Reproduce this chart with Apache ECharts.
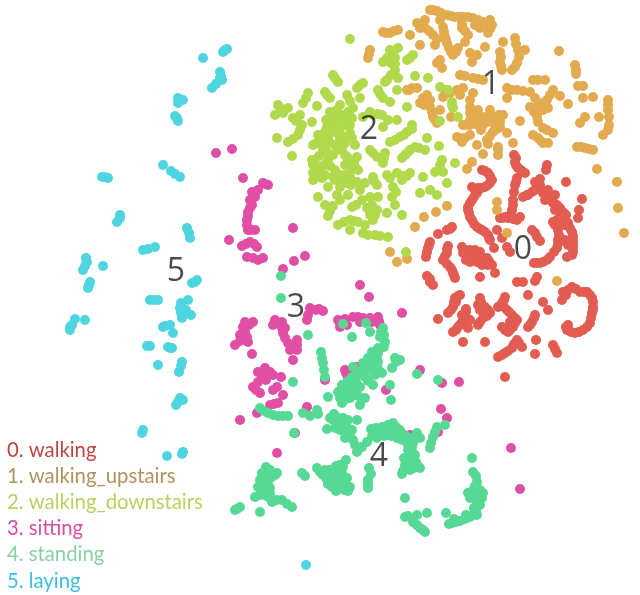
<!DOCTYPE html>
<html><head><meta charset="utf-8">
<style>html,body{margin:0;padding:0;background:#fff}#c{width:640px;height:595px}</style>
<script src="https://cdn.jsdelivr.net/npm/echarts@6/dist/echarts.min.js"></script>
</head><body><div id="c"></div>
<script>
const walking=[[514,155],[515,162],[518,168],[525,173],[517,178],[515,185],[513,200],[512,210],[510,218],[500,218],[517,220],[508,218],[505,217],[520,217],
[482,170],[488,173],[492,180],[488,185],[482,188],[472,187],[477,193],[472,200],[468,207],[469,213],[472,220],[477,227],[482,230],[488,235],[490,240],[497,230],
[523,197],[532,192],[538,188],[543,193],[550,200],[557,205],[563,212],[557,220],[553,222],[558,230],[558,240],[557,248],[550,257],[543,262],[537,263],[535,182],[540,179],[547,165],[546,170],[566,182],[582,199],[579,210],[578,218],[568,223],[572,232],[573,240],[573,248],[572,255],[567,257],[528,195],[545,195],[553,203],
[532,230],[537,237],[540,241],[502,238],[507,247],[494,248],[510,252],
[452,227],[447,230],[438,234],[430,242],[428,248],[426,257],[448,246],[447,253],[443,260],[450,267],[453,273],[455,278],[427,276],[433,285],[430,282],
[462,247],[463,253],[468,257],[475,250],[475,260],[482,265],[487,258],[488,265],[480,277],[495,273],[470,262],[517,282],[523,282],[537,277],[535,281],
[460,295],[455,298],[453,307],[448,313],[438,319],[466,309],[462,322],[458,327],[453,332],[470,320],[468,328],[463,342],[485,342],[480,298],[478,305],[485,307],[490,313],[483,318],[478,325],[505,297],[502,303],[507,310],[512,315],[517,320],[513,327],[508,332],[502,327],[528,295],[543,302],[548,310],[535,315],[532,322],[528,327],[517,340],[512,348],[505,353],[498,357],[522,347],[536,340],[535,354],[553,345],[557,353],[505,377],
[562,300],[563,292],[572,287],[580,292],[587,292],[592,298],[593,307],[592,313],[590,323],[583,330],[575,333],[567,330],[568,325],
[516,158],[516,165],[521,170],[516,182],[514,192],[513,205],[511,214],[503,218],[513,219],[485,171],[490,176],[490,183],[485,187],[478,188],[475,190],[474,197],[470,203],[468,210],[470,217],[474,224],[480,229],[485,232],[489,238],[527,195],[535,190],[541,190],[547,197],[553,202],[560,208],[561,215],[555,225],[559,235],[558,244],[554,252],[547,260],[540,263],[534,263],[570,228],[573,236],[573,244],[573,252],[566,215],[560,225],[563,218],[535,233],[450,229],[429,245],[427,252],[447,249],[445,256],[447,264],[452,270],[454,275],[430,279],[464,250],[466,255],[472,255],[478,257],[477,262],[484,262],[489,261],[486,264],[466,260],[473,258],
[458,296],[454,302],[451,310],[481,302],[482,306],[488,310],[487,316],[480,322],[464,318],[466,312],[460,325],[456,330],[504,300],[504,307],[509,312],[515,318],[515,323],[510,330],[505,330],[534,318],[530,325],[514,344],[508,351],[502,355],[519,343],[555,349],[566,295],[576,289],[584,292],[590,295],[593,302],[593,310],[591,318],[587,327],[579,332],[571,332],[566,327],[568,290],
[465,250],[470,250],[480,252],[482,258],[492,265],[456,302],[462,315],[480,310],[498,307],[510,322],[540,185],[548,190],[555,210],[564,225],[565,240],[568,245],[545,200],[555,195]];
const upstairs=[[430,10],[437,11],[447,15],[455,17],[463,17],[473,18],[483,22],[492,25],[488,33],[417,23],[425,28],[433,35],[443,27],[445,37],[447,43],[453,55],[462,28],[468,35],[458,48],[485,47],[383,32],[390,33],[398,30],[410,35],[420,45],[370,50],[368,58],[437,63],[442,68],[477,55],[470,53],[472,62],[500,52],[500,62],[502,70],[503,42],[515,38],[518,50],[525,50],[517,63],[512,70],[559,51],[575,65],[576,74],[578,86],[583,86],[583,98],[593,97],[568,104],[608,100],[608,110],[609,125],[603,135],[599,117],[585,117],[580,123],[577,147],[585,148],[593,150],[597,169],[617,182],[618,208],[624,233],
[460,75],[473,78],[483,80],[407,90],[417,88],[427,95],[420,103],[430,107],[433,117],[437,123],[443,97],[457,90],[460,95],[473,93],[470,107],[470,113],[480,117],[490,117],[503,115],[483,125],[463,125],[470,125],[507,88],[517,90],[530,92],[533,80],[545,80],[507,98],[553,90],[543,103],[537,107],[530,107],[537,117],[560,96],[520,121],[543,128],[553,133],[533,135],[543,143],[457,137],[470,135],[462,142],[477,145],[487,140],[493,132],[500,127],[483,154],[498,147],[498,155],[507,133],[513,143],[472,162],[467,169],[451,117],[447,206],[436,212],[424,217],[415,227],[497,202],[497,210],[507,233],[390,252],[397,262],[407,259],[557,281],
[433,10],[441,13],[451,16],[459,17],[468,17],[478,20],[487,24],[490,29],[421,25],[429,31],[437,39],[444,32],[446,40],[449,48],[451,52],[456,52],[465,31],[462,24],[440,60],[386,33],[394,31],[369,54],[501,57],[501,66],[516,44],[519,57],[521,51],[515,67],[576,70],[608,105],[609,117],[608,130],[581,147],[589,149],[409,90],[412,88],[423,98],[424,105],[432,112],[435,120],[465,76],[478,79],[450,93],[463,88],[470,100],[472,110],[475,115],[485,117],[496,117],[499,115],[487,122],[481,130],[466,125],[512,90],[523,91],[538,80],[550,95],[547,100],[540,110],[534,112],[538,122],[547,130],[538,138],[541,141],[548,143],[460,138],[465,138],[488,144],[490,136],[497,129],[498,150],[483,120],[478,125],
[425,20],[420,28],[435,45],[440,20],[475,25],[490,20],[480,28],[465,42],[478,110],[475,122],[490,110],[500,122],[495,125],[470,120],[430,100],[440,110],[445,90],[535,98],[543,110],[548,108]];
const downstairs=[[350,39],[398,48],[387,58],[395,58],[395,70],[387,80],[398,78],[413,55],[407,60],[415,76],[428,78],[397,90],[440,87],[448,90],[452,102],[453,108],[458,117],[440,121],[407,107],[333,75],[338,82],[363,83],[357,88],[378,90],[383,98],[390,102],[308,93],[303,103],[325,92],[330,98],[347,95],[360,98],[353,108],[278,105],[283,113],[275,115],[293,118],[302,125],[298,135],[288,142],[277,138],[317,106],[312,122],[292,156],
[337,110],[345,120],[332,117],[327,127],[320,140],[313,145],[323,150],[337,133],[350,133],[345,143],[337,150],[328,160],[312,160],[313,173],[320,170],[335,170],[347,157],[357,157],[352,170],[343,183],[357,182],[365,183],[335,112],[350,125],[328,137],[313,180],[328,187],[340,187],
[370,112],[382,115],[363,117],[397,120],[383,127],[370,150],[377,157],[385,153],[383,163],[412,125],[407,132],[400,137],[390,142],[427,138],[439,146],[415,147],[407,153],[425,150],[402,158],[442,160],[455,163],[443,172],[435,172],[447,183],[423,177],[430,190],[437,195],[420,193],[387,175],[397,173],[410,173],[402,180],[393,187],[392,197],[395,205],[373,177],[377,185],[370,197],[378,197],[318,197],[333,206],[328,216],[338,225],[350,220],[358,222],[352,207],[362,200],[367,208],[377,210],[373,220],[363,233],[375,235],[388,237],[387,213],[402,215],[350,230],[406,252],[337,195],
[335,78],[360,85],[380,94],[306,98],[327,95],[350,101],[280,108],[296,121],[300,130],[293,139],[393,52],[391,63],[395,64],[391,75],[410,58],[385,82],[452,105],[334,114],[340,115],[343,115],[330,122],[335,125],[341,127],[345,125],[325,132],[322,137],[317,143],[330,143],[335,145],[340,140],[348,138],[352,138],[342,150],[327,152],[319,156],[316,165],[324,165],[330,166],[317,177],[322,178],[333,177],[340,175],[345,165],[350,162],[354,163],[350,177],[347,183],[351,185],[361,185],[373,115],[378,114],[388,120],[412,129],[404,135],[395,140],[373,153],[382,158],[384,158],[410,150],[419,148],[405,155],[440,165],[390,178],[403,176],[407,176],[396,192],[374,181],[372,205],[330,211],[344,222],[354,221],[356,205],[370,215],[375,215],[365,225],[368,235],[380,236],
[340,105],[330,112],[348,112],[352,118],[340,120],[326,120],[318,135],[330,132],[342,136],[355,145],[345,155],[333,155],[322,145],[325,175],[313,165],[335,180],[345,175],[358,170],[360,190],[348,195],[340,200],[325,205],[390,50],[383,62],[300,115],[288,108]];
const sitting=[[216,153],[232,149],[243,178],[263,183],[268,185],[252,192],[255,197],[252,205],[248,212],[247,220],[248,230],[255,230],[229,240],[242,246],[250,242],[257,247],[247,257],[258,260],[263,258],[293,228],[305,256],[294,261],[283,269],
[360,285],[369,297],[402,313],[310,308],[323,311],[307,320],[338,320],[353,317],[363,318],[378,317],[380,325],[340,327],[253,322],[243,327],[247,337],[235,345],[252,354],[273,325],[282,322],[283,333],[288,343],[297,340],[297,350],[293,360],[265,368],[262,378],[273,375],[281,377],[253,387],[260,393],[277,387],[278,403],[270,405],[257,413],[240,420],[307,407],[295,433],[277,453],[345,370],[348,377],[357,367],[325,380],[386,390],[420,370],[442,383],[459,382],[441,409],[447,418],[438,432],[511,448],[520,489],[410,435],
[265,184],[253,195],[250,208],[248,216],[247,225],[251,230],[246,244],[254,244],[253,258],[308,315],[316,310],[319,309],[345,319],[358,317],[370,318],[379,321],[340,323],[249,325],[245,332],[240,341],[275,320],[282,328],[285,338],[293,345],[297,345],[263,373],[268,372],[258,382],[256,390],[273,390],[274,404],[346,373],[352,372],
[250,200],[258,190],[270,372],[266,380],[245,322],[240,335],[248,342],[290,350],[285,328],[360,322],[372,322],[347,325],[258,372],[283,395]];
const standing=[[281,276],[281,298],[308,335],[343,324],[352,337],[366,323],[370,332],[380,337],[383,328],[385,342],[378,348],[377,358],[395,358],[400,360],[392,368],[363,363],[373,365],[382,373],[353,367],[352,377],[365,377],[360,387],[373,385],[347,387],[338,392],[352,390],[342,403],[350,398],[365,398],[360,405],[328,397],[391,400],[390,385],[321,352],[323,363],[325,377],[293,382],[417,374],[438,380],
[260,408],[268,413],[278,416],[288,416],[303,413],[310,416],[317,410],[318,414],[294,433],[330,418],[343,418],[338,425],[357,420],[327,429],[348,433],[353,440],[357,452],[367,442],[371,429],[382,427],[393,423],[400,430],[387,433],[377,438],[397,438],[407,440],[417,433],[413,443],[412,452],[410,460],[407,468],[420,468],[402,474],[430,448],[433,437],[437,427],[445,425],[369,468],[368,480],[368,488],[346,460],
[317,468],[323,475],[335,470],[342,473],[333,480],[340,487],[348,491],[332,487],[343,467],[302,473],[305,476],[266,467],[277,473],[260,480],[268,483],[272,477],[255,497],[265,495],[272,502],[282,500],[292,507],[240,507],[260,512],[235,510],[405,498],[405,517],[417,515],[427,513],[413,522],[420,528],[425,532],[446,513],[452,523],[465,519],[473,515],[477,503],[482,498],[473,490],[477,482],[468,493],[473,472],[472,458],
[381,332],[384,335],[378,353],[375,362],[396,362],[368,364],[378,369],[375,375],[356,382],[368,381],[355,387],[343,390],[345,393],[355,394],[346,399],[322,358],[324,370],[264,411],[273,415],[283,416],[333,420],[338,418],[348,420],[340,430],[335,428],[345,438],[350,436],[355,445],[362,447],[372,436],[376,428],[388,425],[396,427],[391,436],[384,436],[401,436],[405,435],[412,438],[408,445],[412,447],[409,456],[411,464],[405,465],[414,468],[402,440],[415,438],[431,443],[435,432],[371,474],[368,484],[320,472],[328,472],[337,476],[338,471],[335,484],[345,484],[337,480],[344,490],[326,478],[330,475],[340,465],[344,478],[263,483],[270,488],[275,475],[262,473],[270,470],[260,495],[268,497],[277,500],[287,504],[237,509],[408,516],[417,525],[423,530],[456,522],[460,521],[470,517],[476,510],[478,496],[480,490],[475,486],[476,476],[470,498],[474,508],[449,524],
[330,470],[325,470],[336,466],[347,478],[350,487],[340,478],[328,484],[336,491],[262,477],[266,475],[258,487],[270,494],[265,488],[408,450],[415,455],[416,462],[404,458],[418,466],[403,471],[410,470],[358,375],[370,370],[362,370],[368,358],[372,352],[358,396],[348,381],[342,385],[378,362],[384,347],[340,398],[335,420],[343,426],[334,414],[347,427],[352,430],[385,430],[392,430],[398,433],[380,432],[420,438],[472,497],[480,505],[477,515],[483,493],[454,519],[466,515]];
const laying=[[203,58],[223,52],[227,49],[220,72],[222,80],[212,88],[178,98],[183,100],[178,103],[175,116],[178,121],[163,165],[171,171],[180,177],[102,177],[108,178],[120,215],[117,222],[187,228],[190,238],[143,250],[155,247],[87,262],[83,270],[103,266],[90,282],[88,288],[197,280],[192,283],[150,300],[158,300],[188,300],[180,308],[182,318],[191,315],[85,320],[75,319],[70,327],[70,330],[163,327],[170,325],[173,333],[147,346],[168,347],[172,348],[158,365],[182,362],[179,372],[180,398],[176,405],[142,433],[167,456],[183,452],[306,565],
[225,50],[221,76],[216,84],[220,78],[180,100],[177,118],[189,233],[148,249],[85,266],[89,285],[86,258],[195,282],[154,300],[181,303],[186,310],[181,313],[165,326],[150,346],[170,348],[181,366],[178,402],[183,400],[182,454],[72,325],[120,218],[105,177],[175,174],[143,430]];
const clusterLabels=[["0",523,250],["1",491,85],["2",369,130],["3",296,308],["4",379,457],["5",176,272]];
const classNames=["walking","walking_upstairs","walking_downstairs","sitting","standing","laying"];
const classData=[walking,upstairs,downstairs,sitting,standing,laying];
const pointColors=["#e25c52","#e3ab4f","#b0d94c","#e04fa5","#55d995","#4fd5e0"];
const legendColors=["#bd4440","#b1925c","#b7d35e","#d94ea0","#8bd0a5","#3dbfe3"];
const legendY=[450,476,502,528,554,581];

const series=classData.map((d,i)=>({name:classNames[i],type:'scatter',data:d,symbolSize:10,itemStyle:{color:pointColors[i],opacity:1},silent:true,animation:false}));
series.push({type:'scatter',data:clusterLabels.map(r=>[r[1],r[2],r[0]]),symbolSize:0,animation:false,silent:true,z:10,
  label:{show:true,position:'inside',formatter:p=>p.data[2],fontFamily:'Open Sans',fontSize:32,color:'#1c1c1c'}});
const chart=echarts.init(document.getElementById('c'),null,{renderer:'canvas'});
chart.setOption({
  animation:false,backgroundColor:'#fff',
  grid:{left:0,right:0,top:0,bottom:0},
  xAxis:{type:'value',min:0,max:640,show:false},
  yAxis:{type:'value',min:0,max:595,inverse:true,show:false},
  graphic:classNames.map((n,i)=>({type:'text',left:7,top:legendY[i]-10,silent:true,
    style:{text:i+'. '+n,fill:legendColors[i],font:'20.3px Lato'}})),
  series
});
</script></body></html>
